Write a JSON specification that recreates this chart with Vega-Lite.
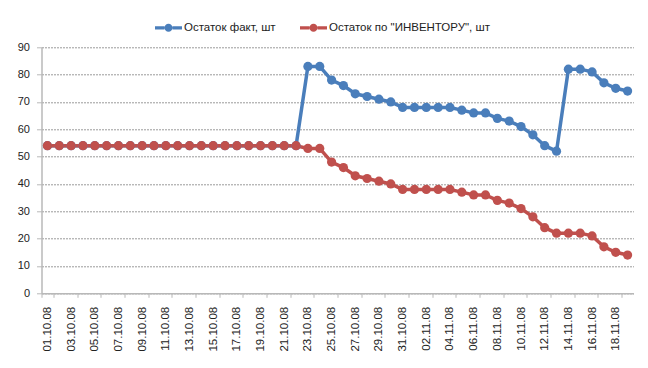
{
  "$schema": "https://vega.github.io/schema/vega-lite/v6.json",
  "width": 592,
  "height": 246,
  "autosize": {"type": "none"},
  "padding": {"left": 41.5, "top": 47.3, "right": 14.5, "bottom": 74.7},
  "background": "white",
  "data": {
    "values": [
      {"d": "01.10.08", "fact": 54, "inv": 54},
      {"d": "02.10.08", "fact": 54, "inv": 54},
      {"d": "03.10.08", "fact": 54, "inv": 54},
      {"d": "04.10.08", "fact": 54, "inv": 54},
      {"d": "05.10.08", "fact": 54, "inv": 54},
      {"d": "06.10.08", "fact": 54, "inv": 54},
      {"d": "07.10.08", "fact": 54, "inv": 54},
      {"d": "08.10.08", "fact": 54, "inv": 54},
      {"d": "09.10.08", "fact": 54, "inv": 54},
      {"d": "10.10.08", "fact": 54, "inv": 54},
      {"d": "11.10.08", "fact": 54, "inv": 54},
      {"d": "12.10.08", "fact": 54, "inv": 54},
      {"d": "13.10.08", "fact": 54, "inv": 54},
      {"d": "14.10.08", "fact": 54, "inv": 54},
      {"d": "15.10.08", "fact": 54, "inv": 54},
      {"d": "16.10.08", "fact": 54, "inv": 54},
      {"d": "17.10.08", "fact": 54, "inv": 54},
      {"d": "18.10.08", "fact": 54, "inv": 54},
      {"d": "19.10.08", "fact": 54, "inv": 54},
      {"d": "20.10.08", "fact": 54, "inv": 54},
      {"d": "21.10.08", "fact": 54, "inv": 54},
      {"d": "22.10.08", "fact": 54, "inv": 54},
      {"d": "23.10.08", "fact": 83, "inv": 53},
      {"d": "24.10.08", "fact": 83, "inv": 53},
      {"d": "25.10.08", "fact": 78, "inv": 48},
      {"d": "26.10.08", "fact": 76, "inv": 46},
      {"d": "27.10.08", "fact": 73, "inv": 43},
      {"d": "28.10.08", "fact": 72, "inv": 42},
      {"d": "29.10.08", "fact": 71, "inv": 41},
      {"d": "30.10.08", "fact": 70, "inv": 40},
      {"d": "31.10.08", "fact": 68, "inv": 38},
      {"d": "01.11.08", "fact": 68, "inv": 38},
      {"d": "02.11.08", "fact": 68, "inv": 38},
      {"d": "03.11.08", "fact": 68, "inv": 38},
      {"d": "04.11.08", "fact": 68, "inv": 38},
      {"d": "05.11.08", "fact": 67, "inv": 37},
      {"d": "06.11.08", "fact": 66, "inv": 36},
      {"d": "07.11.08", "fact": 66, "inv": 36},
      {"d": "08.11.08", "fact": 64, "inv": 34},
      {"d": "09.11.08", "fact": 63, "inv": 33},
      {"d": "10.11.08", "fact": 61, "inv": 31},
      {"d": "11.11.08", "fact": 58, "inv": 28},
      {"d": "12.11.08", "fact": 54, "inv": 24},
      {"d": "13.11.08", "fact": 52, "inv": 22},
      {"d": "14.11.08", "fact": 82, "inv": 22},
      {"d": "15.11.08", "fact": 82, "inv": 22},
      {"d": "16.11.08", "fact": 81, "inv": 21},
      {"d": "17.11.08", "fact": 77, "inv": 17},
      {"d": "18.11.08", "fact": 75, "inv": 15},
      {"d": "19.11.08", "fact": 74, "inv": 14}
    ]
  },
  "transform": [{"fold": ["fact", "inv"], "as": ["s", "v"]}],
  "mark": {
    "type": "line",
    "strokeWidth": 3.5,
    "point": {"filled": true, "size": 85}
  },
  "encoding": {
    "x": {
      "field": "d",
      "type": "ordinal",
      "sort": null,
      "scale": {"type": "band", "paddingInner": 0, "paddingOuter": 0},
      "axis": {
        "title": null,
        "values": ["01.10.08","03.10.08","05.10.08","07.10.08","09.10.08","11.10.08","13.10.08","15.10.08","17.10.08","19.10.08","21.10.08","23.10.08","25.10.08","27.10.08","29.10.08","31.10.08","02.11.08","04.11.08","06.11.08","08.11.08","10.11.08","12.11.08","14.11.08","16.11.08","18.11.08"],
        "tickBand": "extent",
        "tickExtra": false,
        "labelAngle": -90,
        "labelAlign": "right",
        "labelBaseline": "middle",
        "labelPadding": 9,
        "tickSize": 4,
        "grid": false,
        "domainColor": "#b8b8b8",
        "domainWidth": 1.5,
        "tickColor": "#b8b8b8",
        "labelFont": "Liberation Sans",
        "labelFontSize": 11.5,
        "labelColor": "#222222"
      }
    },
    "y": {
      "field": "v",
      "type": "quantitative",
      "scale": {"domain": [0, 90], "nice": false},
      "axis": {
        "title": null,
        "values": [0, 10, 20, 30, 40, 50, 60, 70, 80, 90],
        "grid": true,
        "gridColor": "#9a9a9a",
        "gridDash": [2, 1],
        "gridWidth": 1,
        "tickSize": 5,
        "labelPadding": 7,
        "domainColor": "#b8b8b8",
        "domainWidth": 1.5,
        "tickColor": "#b8b8b8",
        "labelFont": "Liberation Sans",
        "labelFontSize": 11,
        "labelColor": "#222222"
      }
    },
    "color": {
      "field": "s",
      "type": "nominal",
      "scale": {"domain": ["fact", "inv"], "range": ["#4a7ebb", "#c0504d"]},
      "legend": {
        "title": null,
        "orient": "none",
        "direction": "horizontal",
        "legendX": 113.5,
        "legendY": -33,
        "columnPadding": 24,
        "labelOffset": 2,
        "labelLimit": 400,
        "labelFont": "Liberation Sans",
        "labelFontSize": 11.5,
        "labelColor": "#222222",
        "symbolType": "M -1 -0.12 L -0.3 -0.12 L -0.3 0.12 L -1 0.12 Z M 0.3 -0.12 L 1 -0.12 L 1 0.12 L 0.3 0.12 Z M 0.3 0 A 0.3 0.3 0 1 1 -0.3 0 A 0.3 0.3 0 1 1 0.3 0 Z",
        "symbolSize": 729,
        "symbolStrokeWidth": 0,
        "labelExpr": "datum.label == 'fact' ? 'Остаток факт, шт' : 'Остаток по \"ИНВЕНТОРУ\", шт'",
        "encode": {
          "symbols": {
            "update": {
              "fill": {"scale": "color", "field": "value"},
              "opacity": {"value": 1}
            }
          }
        }
      }
    }
  },
  "config": {"view": {"stroke": null}}
}
